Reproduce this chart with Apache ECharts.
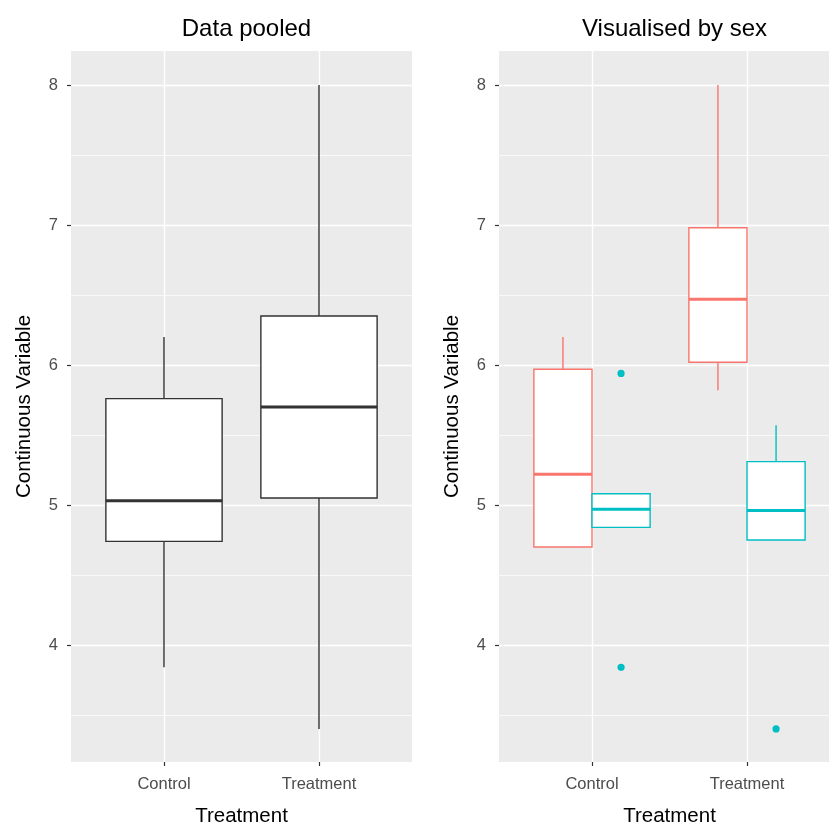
<!DOCTYPE html>
<html><head><meta charset="utf-8">
<script src="https://cdn.jsdelivr.net/npm/echarts@6/dist/echarts.min.js"></script>
<style>html,body{margin:0;padding:0;background:#fff}#c{width:829px;height:824px}</style>
</head><body><div id="c"></div>
<script>
// ---- data ----
const categories = ['Control', 'Treatment'];
// [min (lower whisker), q1, median, q3, max (upper whisker)]
const pooledStats = [[3.84, 4.74, 5.03, 5.76, 6.20], [3.40, 5.05, 5.70, 6.35, 8.00]];
const femaleStats = [[4.70, 4.70, 5.22, 5.97, 6.20], [5.82, 6.02, 6.47, 6.98, 8.00]];
const maleStats = [[4.84, 4.84, 4.97, 5.08, 5.08], [4.75, 4.75, 4.96, 5.31, 5.57]];
const maleOutliers = [[0, 5.94], [0, 3.84], [1, 3.40]];
const yTicks = [4, 5, 6, 7, 8];
const yRange = [3.164, 8.243];
const panelTitles = ['Data pooled', 'Visualised by sex'];
const xTitle = 'Treatment';
const yTitle = 'Continuous Variable';

const FONT = '"Liberation Sans", Arial, sans-serif';

function boxRenderer(offset, widthUnits, color) {
  return function (params, api) {
    const xi = api.value(0);
    const unit = api.coord([1, yRange[0]])[0] - api.coord([0, yRange[0]])[0];
    const cx = api.coord([xi, yRange[0]])[0] + offset * unit;
    const hw = widthUnits * unit / 2;
    const y = i => api.coord([xi, api.value(i)])[1];
    const yMin = y(1), yQ1 = y(2), yMed = y(3), yQ3 = y(4), yMax = y(5);
    const lw = 1.4;
    return {
      type: 'group', children: [
        { type: 'line', shape: { x1: cx, y1: yQ3, x2: cx, y2: yMax }, style: { stroke: color, lineWidth: lw } },
        { type: 'line', shape: { x1: cx, y1: yQ1, x2: cx, y2: yMin }, style: { stroke: color, lineWidth: lw } },
        { type: 'rect', shape: { x: cx - hw, y: yQ3, width: 2 * hw, height: yQ1 - yQ3 }, style: { fill: '#fff', stroke: color, lineWidth: lw } },
        { type: 'line', shape: { x1: cx - hw, y1: yMed, x2: cx + hw, y2: yMed }, style: { stroke: color, lineWidth: 3 } }
      ]
    };
  };
}
function pointRenderer(offset, color) {
  return function (params, api) {
    const xi = api.value(0);
    const unit = api.coord([1, yRange[0]])[0] - api.coord([0, yRange[0]])[0];
    const p = api.coord([xi, api.value(1)]);
    return { type: 'circle', shape: { cx: p[0] + offset * unit, cy: p[1], r: 3.6 }, style: { fill: color } };
  };
}

function outerY(idx) {
  return {
    gridIndex: idx, type: 'value', min: yRange[0], max: yRange[1],
    axisLine: { show: false },
    axisTick: { show: true, length: 4, lineStyle: { color: '#333', width: 1.2 }, customValues: yTicks },
    axisLabel: { customValues: yTicks, color: '#4d4d4d', fontSize: 16.5, fontFamily: FONT, margin: 13 },
    splitLine: { show: true, lineStyle: { color: '#fff', width: 1.4 } },
    minorTick: { show: false, splitNumber: 2 },
    minorSplitLine: { show: true, lineStyle: { color: '#fff', width: 0.7 } },
    name: yTitle, nameLocation: 'middle', nameGap: 36,
    nameTextStyle: { color: '#000', fontSize: 20.5, fontFamily: FONT }
  };
}
function innerX(idx) {
  return {
    gridIndex: idx, type: 'category', data: categories, boundaryGap: false,
    axisLine: { show: false },
    axisTick: { show: true, length: 4, lineStyle: { color: '#333', width: 1.2 } },
    axisLabel: { color: '#4d4d4d', fontSize: 16.5, fontFamily: FONT, margin: 14 },
    splitLine: { show: true, lineStyle: { color: '#fff', width: 1.4 } },
    name: xTitle, nameLocation: 'middle', nameGap: 44,
    nameTextStyle: { color: '#000', fontSize: 20.5, fontFamily: FONT }
  };
}

const gridBase = { top: 51, height: 711, containLabel: false, outerBoundsMode: 'none' };

const chart = echarts.init(document.getElementById('c'), null, { renderer: 'canvas' });
chart.setOption({
  animation: false,
  backgroundColor: '#fff',
  title: [
    { text: panelTitles[0], left: 241.5, top: 12, textAlign: 'center', textStyle: { fontSize: 24, fontWeight: 'normal', color: '#000', fontFamily: FONT } },
    { text: panelTitles[1], left: 669.5, top: 12, textAlign: 'center', textStyle: { fontSize: 24, fontWeight: 'normal', color: '#000', fontFamily: FONT } }
  ],
  grid: [
    Object.assign({ left: 71, width: 341, show: true, backgroundColor: '#ebebeb', borderWidth: 0 }, gridBase),
    Object.assign({ left: 164, width: 155 }, gridBase),
    Object.assign({ left: 499, width: 341, show: true, backgroundColor: '#ebebeb', borderWidth: 0 }, gridBase),
    Object.assign({ left: 592, width: 155 }, gridBase)
  ],
  xAxis: [
    { gridIndex: 0, type: 'value', show: false, min: 0, max: 1 },
    innerX(1),
    { gridIndex: 2, type: 'value', show: false, min: 0, max: 1 },
    innerX(3)
  ],
  yAxis: [
    outerY(0),
    { gridIndex: 1, type: 'value', min: yRange[0], max: yRange[1], show: false },
    outerY(2),
    { gridIndex: 3, type: 'value', min: yRange[0], max: yRange[1], show: false }
  ],
  series: [
    { type: 'custom', xAxisIndex: 1, yAxisIndex: 1, renderItem: boxRenderer(0, 0.75, '#333333'),
      encode: { x: 0, y: [1, 2, 3, 4, 5] }, data: pooledStats.map((s, i) => [i].concat(s)) },
    { type: 'custom', xAxisIndex: 3, yAxisIndex: 3, renderItem: boxRenderer(-0.1875, 0.375, '#F8766D'),
      encode: { x: 0, y: [1, 2, 3, 4, 5] }, data: femaleStats.map((s, i) => [i].concat(s)) },
    { type: 'custom', xAxisIndex: 3, yAxisIndex: 3, renderItem: boxRenderer(0.1875, 0.375, '#00BFC4'),
      encode: { x: 0, y: [1, 2, 3, 4, 5] }, data: maleStats.map((s, i) => [i].concat(s)) },
    { type: 'custom', xAxisIndex: 3, yAxisIndex: 3, renderItem: pointRenderer(0.1875, '#00BFC4'),
      encode: { x: 0, y: 1 }, data: maleOutliers }
  ]
});
</script></body></html>
